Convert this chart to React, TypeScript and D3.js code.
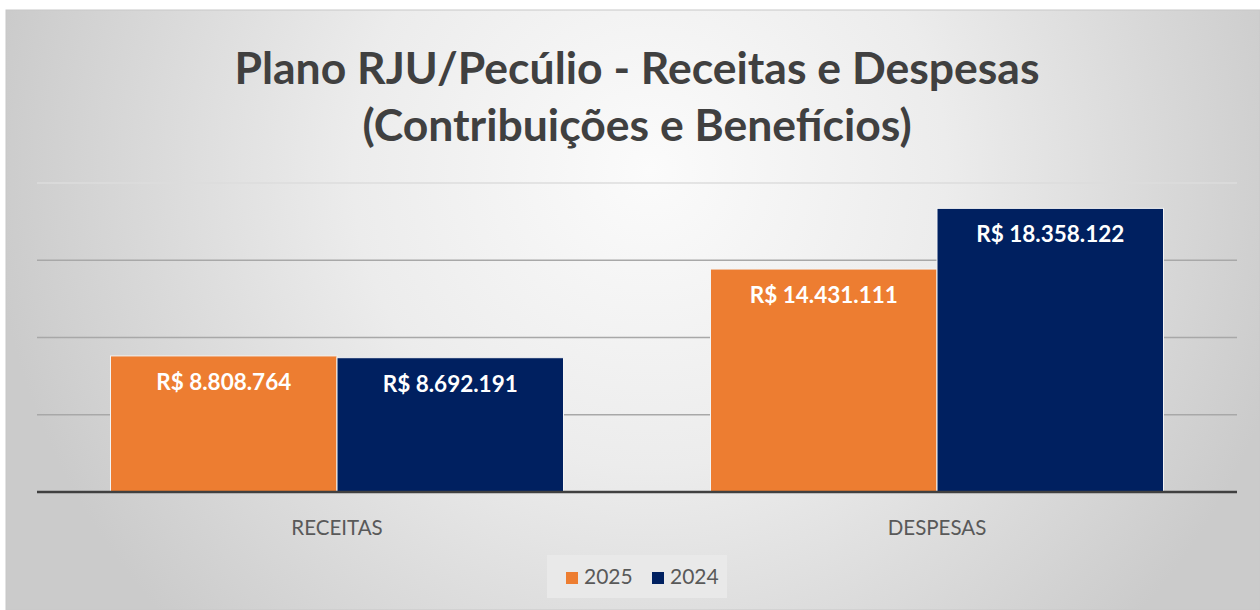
import React from "react";
import * as d3 from "d3";

const categories = ["RECEITAS", "DESPESAS"];
const seriesNames = ["2025", "2024"];
const values2025 = [8808764, 14431111];
const values2024 = [8692191, 18358122];
const yTicks = [0, 5000000, 10000000, 15000000, 20000000];
const titleLines = ["Plano RJU/Pecúlio - Receitas e Despesas", "(Contribuições e Benefícios)"];
const colors = ["#ED7D31", "#002060"];

const W = 1260;
const H = 610;
const FONT = "Lato, 'Open Sans', sans-serif";

export default function App() {
  const x0 = d3.scaleBand<string>().domain(categories).range([37, 1237]).paddingInner(0.245).paddingOuter(0.1225);
  const x1 = d3.scaleBand<string>().domain(seriesNames).range([0, x0.bandwidth()]).padding(0);
  const y = d3.scaleLinear().domain([0, 20000000]).range([492, 183]);
  const seriesVals = [values2025, values2024];
  const fmt = (v: number) => "R$ " + d3.format(",")(v).replace(/,/g, ".");

  return (
    <svg width={W} height={H} style={{ position: "absolute", left: 0, top: 0, display: "block" }}>
      <defs>
        <radialGradient id="bg" gradientUnits="userSpaceOnUse" cx={650} cy={170} r={660}>
          <stop offset="0" stopColor="#fbfbfb" />
          <stop offset="0.45" stopColor="#ececec" />
          <stop offset="1" stopColor="#cbcbcb" />
        </radialGradient>
      </defs>
      <rect x={0} y={0} width={W} height={H} fill="#ffffff" />
      <rect x={6} y={10} width={W - 6} height={H - 10} fill="url(#bg)" stroke="#c8c8c8" strokeWidth={1} />

      {titleLines.map((t, i) => (
        <text key={i} x={637} y={84 + i * 57} textAnchor="middle" fontFamily={FONT} fontWeight={700} fontSize={44.5} fill="#404040">
          {t}
        </text>
      ))}

      {yTicks.filter((t) => t > 0).map((t) => (
        <line key={t} x1={37} x2={1237} y1={y(t)} y2={y(t)} stroke={t === 20000000 ? "#dcdcdc" : "#a8a8a8"} strokeWidth={1.5} />
      ))}

      {categories.map((c, ci) => (
        <g key={c} transform={`translate(${x0(c)},0)`}>
          {seriesNames.map((s, si) => {
            const v = seriesVals[si][ci];
            const bx = x1(s)!;
            const bw = x1.bandwidth();
            return (
              <g key={s}>
                <rect x={bx} y={y(v)} width={bw} height={y(0) - y(v)} fill={colors[si]} stroke="#f4f4f4" strokeWidth={1} />
                <text x={bx + bw / 2} y={y(v) + 34} textAnchor="middle" fontFamily={FONT} fontWeight={700} fontSize={22.5} fill="#ffffff">
                  {fmt(v)}
                </text>
              </g>
            );
          })}
          <text x={x0.bandwidth() / 2} y={535} textAnchor="middle" fontFamily={FONT} fontSize={20.5} fill="#595959">
            {c}
          </text>
        </g>
      ))}

      <line x1={37} x2={1237} y1={y(0)} y2={y(0)} stroke="#404040" strokeWidth={2.5} />

      <g>
        <rect x={547} y={555} width={180} height={43} fill="#e9e9e9" />
        {seriesNames.map((s, i) => (
          <g key={s} transform={`translate(${566 + i * 86},0)`}>
            <rect x={0} y={572} width={12} height={12} fill={colors[i]} />
            <text x={18} y={584} fontFamily={FONT} fontSize={21} fill="#595959">
              {s}
            </text>
          </g>
        ))}
      </g>
    </svg>
  );
}
